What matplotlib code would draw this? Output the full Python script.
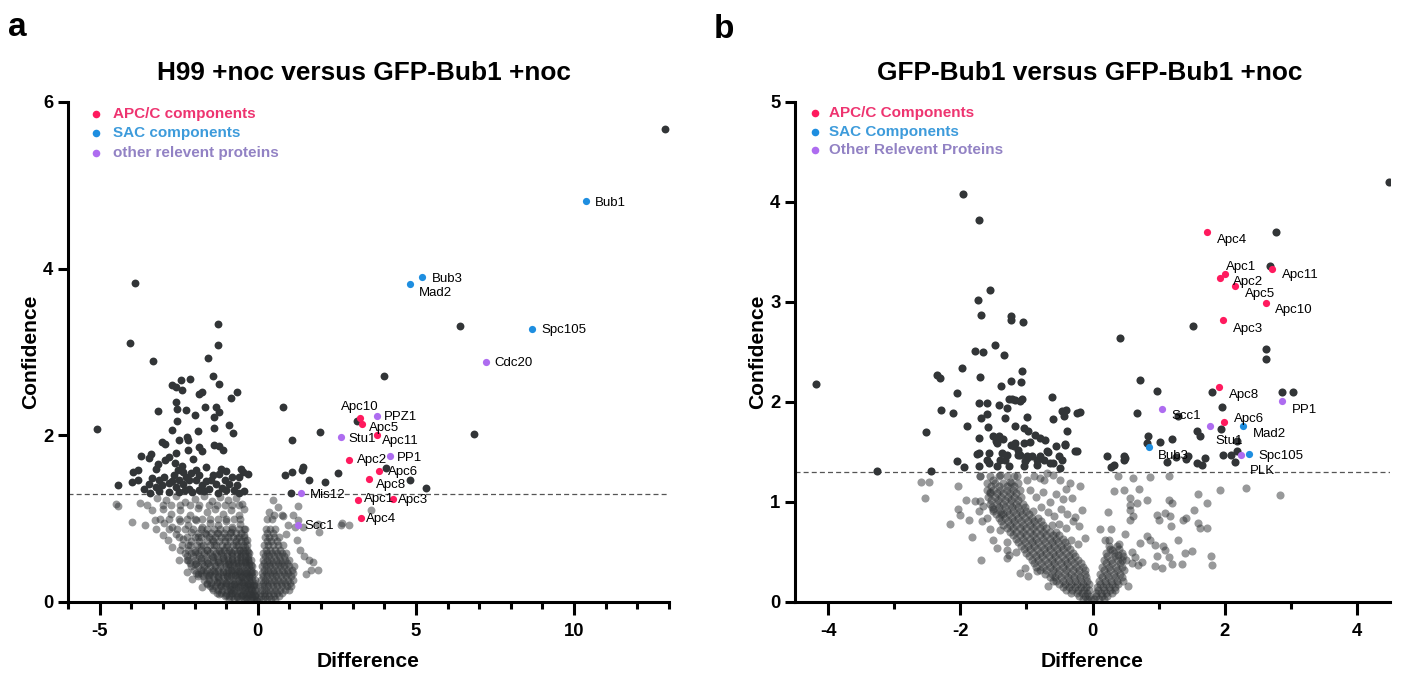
import matplotlib
matplotlib.use("Agg")
import matplotlib.pyplot as plt
from matplotlib import font_manager
import numpy as np

# ---- data: panel a (H99 +noc vs GFP-Bub1 +noc) ----
a_points = [
    # significant (dark)
    (-3.89, 3.83), (-4.05, 3.11), (-1.26, 3.34), (-1.25, 3.09), (-3.31, 2.89), (-1.58, 2.93),
    (-1.42, 2.71), (-2.14, 2.68), (-2.43, 2.66), (-1.24, 2.62), (-2.70, 2.60), (-2.60, 2.58),
    (-2.41, 2.54), (-1.75, 2.52), (-1.86, 2.50), (-0.67, 2.52), (-0.84, 2.45), (-2.60, 2.40),
    (-1.31, 2.34), (-1.67, 2.34), (-2.54, 2.32), (-2.28, 2.31), (-3.16, 2.29), (-1.38, 2.22),
    (-1.22, 2.28), (-1.99, 2.24), (-2.55, 2.17), (-0.90, 2.12), (-5.08, 2.08), (-1.40, 2.09),
    (-2.70, 2.06), (-1.90, 2.05), (-0.78, 2.03), (-2.24, 1.98), (-2.20, 1.94), (-2.49, 1.94),
    (-3.04, 1.92), (-2.92, 1.90), (-1.38, 1.89), (-1.24, 1.87), (-1.10, 1.83), (-1.86, 1.86),
    (-1.77, 1.81), (-2.20, 1.82), (-2.58, 1.79), (-3.38, 1.78), (-3.68, 1.75), (-3.45, 1.73),
    (-2.81, 1.74), (-2.92, 1.71), (-2.05, 1.72), (-3.17, 1.66), (-3.23, 1.60), (-3.78, 1.59),
    (-3.95, 1.56), (-2.62, 1.67), (-2.39, 1.63), (-2.51, 1.59), (-1.65, 1.62), (-1.96, 1.59),
    (-2.12, 1.55), (-1.17, 1.60), (-1.01, 1.57), (-0.53, 1.60), (-0.46, 1.56), (-0.30, 1.54),
    (-0.80, 1.50), (-0.59, 1.50), (-3.99, 1.44), (-4.42, 1.41), (-3.78, 1.47), (-3.34, 1.49),
    (-3.13, 1.46), (-3.02, 1.40), (-3.23, 1.38), (-2.81, 1.43), (-2.60, 1.38), (-2.37, 1.42),
    (-2.18, 1.36), (-1.96, 1.46), (-1.75, 1.40), (-1.54, 1.36), (-1.33, 1.42), (-1.12, 1.37),
    (-0.90, 1.42), (-0.75, 1.35), (-1.86, 1.34), (-2.07, 1.32), (-2.49, 1.32), (-2.81, 1.32),
    (-3.13, 1.33), (-2.28, 1.50), (-2.16, 1.46), (-2.49, 1.46), (-2.65, 1.52), (-1.43, 1.52),
    (-1.22, 1.54), (-1.49, 1.46), (-3.60, 1.36), (-3.45, 1.42), (-2.95, 1.50), (-2.70, 1.45),
    (-2.35, 1.56), (-1.85, 1.52), (-1.65, 1.45), (-1.05, 1.47), (-0.65, 1.40), (-0.45, 1.33),
    (-1.00, 1.34), (-1.70, 1.33), (-3.40, 1.31), (-2.30, 1.35), (-1.25, 1.31), (-0.60, 1.31),
    (0.81, 2.34), (1.07, 1.94), (1.98, 2.04), (1.42, 1.62), (1.40, 1.58), (1.07, 1.56),
    (0.85, 1.52), (1.61, 1.47), (2.11, 1.44), (2.55, 1.55), (1.06, 1.31), (3.13, 2.17),
    (4.05, 1.61), (4.81, 1.46), (5.32, 1.37), (6.82, 2.02), (6.40, 3.31), (3.98, 2.71),
    (12.88, 5.68),
    # not significant (left arm)
    (-4.48, 1.18), (-4.42, 1.15), (-3.71, 1.19), (-3.20, 1.25), (-2.90, 1.22), (-2.60, 1.27),
    (-2.30, 1.20), (-2.00, 1.24), (-1.70, 1.27), (-1.45, 1.21), (-1.20, 1.26), (-0.95, 1.22),
    (-0.70, 1.25), (-0.50, 1.18), (-3.35, 1.10), (-3.00, 1.12), (-2.75, 1.06), (-2.45, 1.10),
    (-2.15, 1.05), (-1.90, 1.13), (-1.60, 1.08), (-1.35, 1.12), (-1.10, 1.06), (-0.85, 1.10),
    (-0.60, 1.05), (-0.45, 1.12), (-3.97, 0.96), (-3.57, 0.93), (-3.25, 0.98), (-3.23, 0.88),
    (-2.95, 0.95), (-2.70, 0.90), (-2.45, 0.97), (-2.20, 0.92), (-1.95, 0.98), (-1.75, 0.90),
    (-1.50, 0.95), (-1.25, 0.92), (-1.00, 0.97), (-0.80, 0.90), (-0.55, 0.94), (-0.40, 0.88),
    (-3.00, 0.80), (-2.83, 0.74), (-2.60, 0.82), (-2.35, 0.76), (-2.10, 0.84), (-1.90, 0.78),
    (-1.65, 0.82), (-1.45, 0.76), (-1.25, 0.83), (-1.05, 0.78), (-0.85, 0.84), (-0.65, 0.77),
    (-0.45, 0.80), (-0.35, 0.74), (-2.70, 0.66), (-2.45, 0.62), (-2.20, 0.68), (-1.98, 0.60),
    (-1.80, 0.67), (-1.60, 0.62), (-1.40, 0.68), (-1.20, 0.61), (-1.00, 0.66), (-0.85, 0.60),
    (-0.70, 0.68), (-0.55, 0.62), (-0.40, 0.66), (-0.30, 0.60), (-2.50, 0.50), (-2.23, 0.50),
    (-2.00, 0.46), (-1.80, 0.53), (-1.60, 0.47), (-1.42, 0.54), (-1.25, 0.48), (-1.10, 0.53),
    (-0.95, 0.46), (-0.80, 0.52), (-0.68, 0.47), (-0.55, 0.54), (-0.42, 0.48), (-0.30, 0.52),
    (-0.22, 0.45), (-2.25, 0.36), (-2.07, 0.28), (-1.90, 0.34), (-1.72, 0.38), (-1.55, 0.32),
    (-1.40, 0.37), (-1.25, 0.30), (-1.10, 0.36), (-0.97, 0.31), (-0.85, 0.38), (-0.72, 0.32),
    (-0.60, 0.37), (-0.50, 0.30), (-0.38, 0.35), (-0.28, 0.30), (-0.18, 0.36), (-1.75, 0.18),
    (-1.60, 0.22), (-1.45, 0.17), (-1.30, 0.24), (-1.15, 0.19), (-1.00, 0.23), (-0.88, 0.16),
    (-0.75, 0.22), (-0.62, 0.18), (-0.50, 0.24), (-0.40, 0.17), (-0.30, 0.22), (-0.20, 0.16),
    (-0.12, 0.20), (-1.22, 0.10), (-1.00, 0.08), (-0.80, 0.11), (-0.65, 0.06), (-0.50, 0.09),
    (-0.38, 0.05), (-0.28, 0.10), (-0.18, 0.06), (-0.10, 0.09), (-0.05, 0.03), (-0.02, 0.01),
    # not significant (right arm)
    (0.47, 1.22), (0.65, 1.14), (1.28, 1.15), (0.52, 1.05), (0.77, 1.05), (1.10, 1.04),
    (1.27, 0.98), (1.90, 0.94), (2.67, 0.95), (2.88, 0.92), (1.61, 0.50), (1.76, 0.48),
    (1.90, 0.38), (1.69, 0.38), (0.37, 1.08), (0.81, 1.03), (1.19, 0.90), (1.42, 0.90),
    (1.53, 0.34), (1.93, 0.84), (3.59, 1.10), (2.64, 0.93), (1.35, 0.62), (1.25, 0.75),
    (1.45, 0.55), (0.95, 0.92), (0.90, 0.82),
]

# dense core of the cloud, typed row by row: (y, [x values])
a_core_rows = [
    (0.04, [-0.90, -0.75, -0.60, -0.45, -0.33, -0.22, -0.12, 0.05, 0.15, 0.28, 0.42, 0.55]),
    (0.07, [-1.05, -0.92, -0.80, -0.67, -0.54, -0.42, -0.30, -0.19, -0.09, 0.10, 0.22, 0.36,
            0.50, 0.66]),
    (0.11, [-1.30, -1.15, -1.00, -0.85, -0.72, -0.60, -0.48, -0.36, -0.25, -0.14, -0.06,
            0.08, 0.20, 0.33, 0.47, 0.62, 0.78]),
    (0.15, [-1.42, -1.27, -1.12, -0.98, -0.86, -0.74, -0.62, -0.50, -0.39, -0.29, -0.19,
            -0.10, 0.13, 0.26, 0.40, 0.55, 0.70, 0.85, 0.98]),
    (0.19, [-1.50, -1.35, -1.20, -1.05, -0.92, -0.80, -0.68, -0.55, -0.44, -0.34, -0.24,
            -0.15, -0.07, 0.08, 0.20, 0.33, 0.47, 0.62, 0.78, 0.92, 1.05]),
    (0.23, [-1.62, -1.47, -1.30, -1.14, -0.99, -0.85, -0.72, -0.58, -0.46, -0.35, -0.24,
            -0.13, 0.15, 0.28, 0.42, 0.57, 0.72, 0.87, 1.02]),
    (0.27, [-1.70, -1.55, -1.40, -1.22, -1.06, -0.92, -0.78, -0.64, -0.52, -0.40, -0.29,
            -0.18, -0.09, 0.10, 0.22, 0.35, 0.50, 0.65, 0.80, 0.95, 1.10]),
    (0.31, [-1.88, -1.72, -1.57, -1.42, -1.26, -1.10, -0.96, -0.84, -0.72, -0.60, -0.49,
            -0.38, -0.28, -0.18, 0.17, 0.30, 0.44, 0.59, 0.74, 0.89, 1.04]),
    (0.35, [-1.95, -1.80, -1.65, -1.50, -1.35, -1.18, -1.02, -0.90, -0.78, -0.66, -0.55,
            -0.44, -0.33, -0.23, -0.13, 0.12, 0.25, 0.38, 0.52, 0.67, 0.82, 0.97, 1.12]),
    (0.39, [-2.02, -1.80, -1.60, -1.43, -1.27, -1.10, -0.95, -0.82, -0.69, -0.56, -0.44,
            -0.33, -0.22, 0.19, 0.33, 0.47, 0.62, 0.77, 0.92, 1.08]),
    (0.43, [-2.10, -1.90, -1.70, -1.52, -1.35, -1.18, -1.02, -0.88, -0.75, -0.62, -0.50,
            -0.38, -0.27, -0.18, 0.14, 0.27, 0.40, 0.54, 0.69, 0.84, 1.00, 1.15]),
    (0.47, [-2.15, -1.95, -1.75, -1.56, -1.38, -1.21, -1.05, -0.91, -0.77, -0.64, -0.52,
            -0.40, -0.28, 0.21, 0.35, 0.49, 0.63, 0.78, 0.93]),
    (0.51, [-2.20, -2.00, -1.80, -1.60, -1.42, -1.25, -1.08, -0.94, -0.80, -0.66, -0.54,
            -0.42, -0.30, -0.20, 0.15, 0.28, 0.42, 0.56, 0.70, 0.85, 1.00]),
    (0.55, [-2.25, -2.05, -1.85, -1.65, -1.46, -1.28, -1.11, -0.96, -0.81, -0.67, -0.54,
            -0.42, -0.31, 0.24, 0.37, 0.52, 0.67, 0.82]),
    (0.59, [-2.30, -2.10, -1.90, -1.70, -1.50, -1.32, -1.15, -0.98, -0.82, -0.67, -0.52,
            -0.40, -0.28, 0.18, 0.30, 0.45, 0.60, 0.75, 0.90]),
    (0.63, [-2.20, -2.00, -1.80, -1.60, -1.41, -1.23, -1.06, -0.90, -0.74, -0.60, -0.46,
            -0.34, 0.26, 0.40, 0.55, 0.70]),
    (0.68, [-2.40, -2.15, -1.92, -1.72, -1.52, -1.33, -1.14, -0.96, -0.79, -0.62, -0.47,
            -0.34, 0.20, 0.33, 0.48, 0.63, 0.80]),
    (0.73, [-2.10, -1.85, -1.62, -1.43, -1.24, -1.05, -0.87, -0.70, -0.53, -0.40, 0.28,
            0.43, 0.60]),
    (0.78, [-2.50, -2.25, -2.00, -1.78, -1.55, -1.35, -1.15, -0.95, -0.78, -0.60, -0.45,
            0.22, 0.36, 0.52, 0.68]),
    (0.83, [-1.90, -1.68, -1.48, -1.28, -1.08, -0.88, -0.70, -0.52, 0.30, 0.47]),
    (0.88, [-2.80, -2.55, -2.30, -2.05, -1.80, -1.60, -1.40, -1.20, -1.00, -0.80, -0.60,
            -0.45, 0.26, 0.40, 0.55]),
    (1.00, [-3.10, -2.80, -2.50, -2.25, -2.00, -1.75, -1.50, -1.25, -1.00, -0.75, -0.55,
            0.30, 0.45]),
    (1.17, [-3.50, -3.00, -2.75, -2.45, -2.15, -1.85, -1.55, -1.30, -1.05, -0.80, -0.60]),
]

a_apc_names = ["Apc10", "Apc5", "Apc11", "Apc2", "Apc6", "Apc8", "Apc1", "Apc3", "Apc4"]
a_apc_x = [3.24, 3.28, 3.77, 2.88, 3.84, 3.52, 3.17, 4.26, 3.25]
a_apc_y = [2.21, 2.14, 2.00, 1.70, 1.57, 1.48, 1.23, 1.24, 1.01]
a_sac_names = ["Bub1", "Bub3", "Mad2", "Spc105"]
a_sac_x = [10.37, 5.18, 4.81, 8.68]
a_sac_y = [4.81, 3.90, 3.82, 3.27]
a_oth_names = ["PPZ1", "Stu1", "PP1", "Mis12", "Scc1", "Cdc20"]
a_oth_x = [3.77, 2.64, 4.17, 1.37, 1.27, 7.20]
a_oth_y = [2.23, 1.98, 1.75, 1.31, 0.93, 2.88]

# ---- data: panel b (GFP-Bub1 vs GFP-Bub1 +noc) ----
b_points = [
    # significant (dark)
    (-4.18, 2.18), (-1.96, 4.08), (-1.71, 3.82), (-1.55, 3.12), (-1.73, 3.02), (-1.69, 2.87),
    (-1.23, 2.86), (-1.23, 2.82), (-1.05, 2.80), (-1.47, 2.57), (-1.78, 2.51), (-1.66, 2.50),
    (-1.34, 2.47), (-1.07, 2.31), (-1.97, 2.34), (-2.35, 2.27), (-2.30, 2.24), (-1.70, 2.25),
    (-1.23, 2.21), (-1.08, 2.20), (-2.05, 2.09), (-1.38, 2.16), (-1.72, 1.99), (-1.60, 1.99),
    (-1.27, 2.03), (-1.22, 2.03), (-1.17, 2.02), (-1.09, 2.01), (-1.07, 2.03), (-1.41, 1.97),
    (-1.29, 1.94), (-0.62, 2.05), (-2.29, 1.92), (-2.11, 1.89), (-1.68, 1.84), (-1.60, 1.88),
    (-1.33, 1.84), (-0.99, 1.85), (-0.59, 1.83), (-0.46, 1.91), (-0.40, 1.92), (-0.43, 1.86),
    (-0.24, 1.89), (-0.19, 1.90), (-1.90, 1.76), (-1.58, 1.75), (-2.52, 1.70), (-1.17, 1.76),
    (-1.04, 1.74), (-0.97, 1.71), (-0.87, 1.67), (-0.79, 1.64), (-0.72, 1.62), (-0.39, 1.71),
    (-1.50, 1.66), (-1.42, 1.66), (-1.46, 1.61), (-1.35, 1.63), (-1.71, 1.64), (-1.24, 1.57),
    (-1.17, 1.59), (-1.04, 1.59), (-0.95, 1.60), (-1.12, 1.52), (-0.55, 1.56), (-0.41, 1.58),
    (-0.24, 1.51), (-1.72, 1.49), (-1.57, 1.49), (-1.60, 1.42), (-1.37, 1.49), (-1.30, 1.47),
    (-1.40, 1.42), (-1.09, 1.47), (-0.99, 1.46), (-0.92, 1.46), (-1.02, 1.41), (-0.84, 1.42),
    (-0.74, 1.42), (-0.67, 1.50), (-0.59, 1.39), (-0.51, 1.46), (-0.46, 1.42), (-2.05, 1.41),
    (-3.26, 1.31), (-2.44, 1.31), (-1.94, 1.35), (-1.74, 1.48), (-1.71, 1.36), (-1.57, 1.39),
    (-1.44, 1.59), (-1.32, 1.42), (-1.45, 1.36), (-1.27, 1.36), (-1.19, 1.56), (-1.12, 1.47),
    (-1.04, 1.36), (-0.99, 1.44), (-0.84, 1.37), (-0.79, 1.46), (-0.69, 1.51), (-0.64, 1.39),
    (-0.49, 1.34), (-0.41, 1.57), (-0.26, 1.51),
    (4.49, 4.20), (2.77, 3.70), (2.69, 3.36), (1.52, 2.76), (0.41, 2.64), (2.62, 2.53),
    (2.62, 2.43), (0.72, 2.22), (0.97, 2.11), (1.81, 2.10), (2.87, 2.10), (3.04, 2.10),
    (1.96, 1.95), (0.67, 1.89), (1.30, 1.86), (1.95, 1.73), (1.58, 1.71), (1.62, 1.66),
    (0.84, 1.66), (1.02, 1.60), (1.20, 1.63), (2.18, 1.61), (0.22, 1.46), (0.47, 1.46),
    (0.49, 1.44), (0.32, 1.37), (0.28, 1.35), (1.12, 1.40), (1.27, 1.45), (1.45, 1.46),
    (1.42, 1.43), (1.70, 1.44), (1.58, 1.39), (1.65, 1.37), (1.98, 1.47), (2.09, 1.47),
    (2.18, 1.51), (2.16, 1.40), (0.47, 1.42), (0.82, 1.59),
    # not significant (left arm)
    (-2.60, 1.20), (-2.48, 1.20), (-1.70, 1.26), (-1.50, 1.22), (-1.40, 1.27), (-1.25, 1.20),
    (-1.14, 1.26), (-0.99, 1.22), (-0.89, 1.26), (-0.74, 1.22), (-0.59, 1.27), (-0.49, 1.22),
    (-0.34, 1.19), (-0.69, 1.29), (-0.79, 1.24), (-2.53, 1.04), (-2.03, 1.16), (-1.92, 1.02),
    (-1.77, 1.01), (-1.70, 1.01), (-1.65, 0.96), (-1.55, 1.10), (-0.95, 1.12), (-0.85, 1.05),
    (-0.75, 1.10), (-0.65, 1.00), (-0.55, 1.08), (-0.45, 1.03), (-0.19, 1.16), (-0.31, 1.04),
    (-0.40, 1.13), (-2.04, 0.93), (-2.00, 0.87), (-1.72, 0.91), (-0.78, 0.95), (-0.68, 0.90),
    (-0.58, 0.86), (-0.48, 0.93), (-0.38, 0.88), (-0.16, 0.92), (-0.26, 0.85), (-2.15, 0.78),
    (-1.87, 0.82), (-1.60, 0.84), (-1.67, 0.81), (-1.55, 0.73), (-1.40, 0.72), (-0.50, 0.78),
    (-0.40, 0.74), (-0.29, 0.81), (-0.20, 0.76), (-1.83, 0.65), (-1.50, 0.62), (-1.45, 0.54),
    (-1.30, 0.60), (-0.32, 0.62), (-0.22, 0.58), (-0.12, 0.64), (-1.69, 0.42), (-1.30, 0.52),
    (-1.30, 0.44), (-1.27, 0.47), (-1.15, 0.50), (-1.09, 0.29), (-1.02, 0.34), (-0.97, 0.26),
    (-0.84, 0.31), (-0.67, 0.16), (-0.60, 0.21), (-1.70, 1.26), (-1.50, 0.93), (-1.38, 0.88),
    # not significant (right arm)
    (0.38, 1.26), (0.62, 1.24), (0.87, 1.25), (1.16, 1.26), (0.32, 1.11), (0.47, 1.12),
    (0.71, 1.13), (0.83, 1.02), (0.57, 1.04), (0.57, 0.97), (0.67, 0.99), (1.15, 1.02),
    (1.20, 0.99), (1.60, 1.08), (1.73, 0.99), (1.93, 1.12), (2.32, 1.14), (2.83, 1.07),
    (0.24, 0.90), (0.57, 0.92), (0.62, 0.86), (0.56, 0.82), (0.97, 0.87), (1.10, 0.89),
    (1.00, 0.82), (1.17, 0.86), (1.18, 0.76), (1.37, 0.82), (1.42, 0.84), (1.53, 0.92),
    (1.60, 0.79), (1.63, 0.74), (1.73, 0.74), (0.12, 0.73), (0.28, 0.73), (0.49, 0.68),
    (0.19, 0.62), (0.82, 0.66), (0.87, 0.62), (0.72, 0.59), (0.95, 0.57), (1.07, 0.56),
    (1.10, 0.52), (0.97, 0.46), (1.15, 0.45), (1.30, 0.62), (1.40, 0.49), (1.50, 0.51),
    (1.79, 0.46), (1.81, 0.37), (1.36, 0.38), (1.21, 0.38), (1.05, 0.34), (0.95, 0.36),
    (0.59, 0.39), (0.69, 0.37), (0.54, 0.16), (0.29, 0.52), (0.38, 0.47), (0.44, 0.42),
    (0.60, 0.50), (0.65, 0.45), (0.75, 0.40), (0.40, 0.58), (0.25, 0.62),
]

b_core_rows = [
    (0.03, [-0.15, -0.08, -0.02, 0.03, 0.10, 0.17]),
    (0.06, [-0.20, -0.12, -0.05, 0.06, 0.14, 0.22]),
    (0.09, [-0.32, -0.24, -0.16, -0.08, 0.05, 0.13, 0.21, 0.29]),
    (0.12, [-0.40, -0.31, -0.22, -0.13, -0.05, 0.09, 0.17, 0.26, 0.34]),
    (0.15, [-0.45, -0.36, -0.27, -0.18, -0.10, 0.07, 0.16, 0.25, 0.34]),
    (0.18, [-0.50, -0.41, -0.32, -0.23, -0.14, -0.06, 0.12, 0.21, 0.30, 0.39]),
    (0.21, [-0.55, -0.45, -0.35, -0.26, -0.17, -0.08, 0.10, 0.19, 0.28, 0.37, 0.46]),
    (0.25, [-0.65, -0.56, -0.47, -0.37, -0.28, -0.19, -0.10, 0.14, 0.24, 0.34, 0.44]),
    (0.28, [-0.72, -0.62, -0.52, -0.42, -0.32, -0.22, -0.12, 0.12, 0.22, 0.32, 0.42]),
    (0.32, [-0.80, -0.70, -0.60, -0.50, -0.40, -0.30, -0.20, -0.11, 0.17, 0.27, 0.37, 0.48]),
    (0.35, [-0.85, -0.75, -0.65, -0.55, -0.45, -0.35, -0.25, -0.15, 0.15, 0.25, 0.35, 0.45]),
    (0.39, [-0.88, -0.78, -0.68, -0.58, -0.48, -0.38, -0.28, -0.18, 0.20, 0.30, 0.42]),
    (0.42, [-0.92, -0.82, -0.72, -0.62, -0.52, -0.42, -0.32, -0.22, 0.18, 0.28, 0.38, 0.50]),
    (0.46, [-0.96, -0.86, -0.76, -0.66, -0.56, -0.46, -0.36, -0.26, 0.22, 0.34, 0.46]),
    (0.49, [-1.00, -0.90, -0.80, -0.70, -0.60, -0.50, -0.40, -0.30, 0.20, 0.32, 0.44]),
    (0.53, [-1.04, -0.94, -0.84, -0.74, -0.64, -0.54, -0.44, -0.34, 0.27, 0.40]),
    (0.56, [-1.08, -0.98, -0.88, -0.78, -0.68, -0.58, -0.48, -0.38, 0.25, 0.37]),
    (0.60, [-1.12, -1.02, -0.92, -0.82, -0.72, -0.62, -0.52, -0.42]),
    (0.63, [-1.15, -1.05, -0.95, -0.85, -0.75, -0.65, -0.55, -0.45]),
    (0.67, [-1.20, -1.10, -1.00, -0.90, -0.80, -0.70, -0.60, -0.50]),
    (0.70, [-1.25, -1.15, -1.05, -0.95, -0.85, -0.75, -0.65, -0.55]),
    (0.74, [-1.30, -1.20, -1.10, -1.00, -0.90, -0.80, -0.70]),
    (0.77, [-1.35, -1.25, -1.15, -1.05, -0.95, -0.85, -0.75, -0.62]),
    (0.81, [-1.38, -1.28, -1.18, -1.08, -0.98, -0.88, -0.78]),
    (0.84, [-1.42, -1.32, -1.22, -1.12, -1.02, -0.92, -0.82]),
    (0.88, [-1.46, -1.36, -1.26, -1.16, -1.06, -0.96]),
    (0.91, [-1.50, -1.40, -1.30, -1.20, -1.10, -1.00, -0.90]),
    (0.95, [-1.52, -1.42, -1.32, -1.22, -1.12, -1.02]),
    (0.98, [-1.55, -1.45, -1.35, -1.25, -1.15, -1.05]),
    (1.02, [-1.53, -1.43, -1.33, -1.23, -1.13]),
    (1.05, [-1.58, -1.48, -1.38, -1.28, -1.18, -1.08]),
    (1.09, [-1.55, -1.45, -1.35, -1.25, -1.15]),
    (1.12, [-1.60, -1.50, -1.40, -1.30, -1.20, -1.10]),
    (1.16, [-1.54, -1.42, -1.30, -1.18]),
    (1.19, [-1.60, -1.48, -1.36, -1.24, -1.12]),
    (1.26, [-1.55, -1.42, -1.30, -1.18]),
]

b_apc_names = ["Apc4", "Apc1", "Apc2", "Apc5", "Apc11", "Apc10", "Apc3", "Apc8", "Apc6"]
b_apc_x = [1.73, 2.00, 1.93, 2.15, 2.72, 2.62, 1.98, 1.91, 1.99]
b_apc_y = [3.70, 3.28, 3.24, 3.16, 3.33, 2.99, 2.82, 2.15, 1.80]
b_sac_names = ["Bub3", "Mad2", "Spc105"]
b_sac_x = [0.855, 2.28, 2.37]
b_sac_y = [1.55, 1.76, 1.48]
b_oth_names = ["Scc1", "Stu1", "PP1", "PLK"]
b_oth_x = [1.05, 1.78, 2.87, 2.24]
b_oth_y = [1.93, 1.76, 2.01, 1.47]

legend_a = ["APC/C components", "SAC components", "other relevent proteins"]
legend_b = ["APC/C Components", "SAC Components", "Other Relevent Proteins"]

# label offsets in points (dx, dy); layout only
a_offsets = {
    "Apc10": (0, 8), "Apc5": (5.5, -3), "Apc11": (3.8, -4.3), "Apc2": (5.8, 0),
    "Apc6": (6.5, -0.7), "Apc8": (4.6, -4.8), "Apc1": (4.1, 0.5), "Apc3": (4.1, -1.2),
    "Apc4": (4.1, -0.5), "Bub1": (6.7, -1.2), "Bub3": (7.2, -1.2), "Mad2": (6.7, -7),
    "Spc105": (6.2, -0.7), "PPZ1": (5, -0.5), "Stu1": (4.8, -1.2), "PP1": (5.5, -1),
    "Mis12": (6, -1.2), "Scc1": (4.8, -1.2), "Cdc20": (6.2, -1),
}
b_offsets = {
    "Apc4": (7.2, -6), "Apc1": (1.2, 5.3), "Apc2": (9.6, -3.1), "Apc5": (7.7, -6),
    "Apc11": (7, -4.6), "Apc10": (6.7, -5.3), "Apc3": (7.2, -6.2), "Apc8": (7, -6),
    "Apc6": (7, 2.2), "Scc1": (6.5, -5.3), "Stu1": (3.6, -10.8), "PP1": (7.2, -6.5),
    "PLK": (7, -11.5), "Bub3": (6.7, -6.2), "Mad2": (6.7, -6), "Spc105": (6.7, -1.4),
}

# ---- style ----
names = {f.name for f in font_manager.fontManager.ttflist}
narrow = "Liberation Sans Narrow" if "Liberation Sans Narrow" in names else None
plt.rcParams["font.family"] = ["Liberation Sans", "DejaVu Sans"]
plt.rcParams["axes.unicode_minus"] = False
head_font = narrow or "Liberation Sans"
k = 1.0 if narrow else 0.84   # shrink wide fallback so headings keep their width

dark = "#323537"
pink, blue, purple = "#FF1A5E", "#1E8EE0", "#AE6CF0"
pink_l, blue_l, purple_l = "#EE3470", "#3D9BDB", "#9282C4"
thresh = 1.3

fig = plt.figure(figsize=(14.01, 6.8), dpi=100)
ax_a = fig.add_axes([68 / 1401, 78 / 680, 601 / 1401, 500 / 680])
ax_b = fig.add_axes([795 / 1401, 78 / 680, 595 / 1401, 500 / 680])


def all_points(pts, rows):
    out = list(pts)
    for y, xs in rows:
        out += [(x, y) for x in xs]
    return np.array(out)


def draw(ax, p, groups, offsets, s_dark, s_col):
    sig = p[:, 1] > thresh
    ax.scatter(p[~sig, 0], p[~sig, 1], s=s_dark, color=dark, alpha=0.5, lw=0, zorder=2)
    ax.scatter(p[sig, 0], p[sig, 1], s=s_dark, color=dark, lw=0, zorder=3)
    for lbls, xs, ys, col in groups:
        ax.scatter(xs, ys, s=s_col, color=col, lw=0, zorder=4)
        for n, x, y in zip(lbls, xs, ys):
            dx, dy = offsets[n]
            ha = "center" if dx == 0 else "left"
            ax.annotate(n, (x, y), xytext=(dx, dy), textcoords="offset points",
                        ha=ha, va="center", fontsize=9.5, color="black", zorder=5)
    ax.axhline(thresh, color="#555555", lw=0.9, ls=(0, (4, 2.5)), zorder=1)
    for side in ("top", "right"):
        ax.spines[side].set_visible(False)
    for side in ("left", "bottom"):
        ax.spines[side].set_linewidth(2.2)
    ax.tick_params(axis="both", width=2.2, labelsize=14 * (1.0 if narrow else 0.95))
    ax.tick_params(axis="x", which="major", length=9, pad=6)
    ax.tick_params(axis="x", which="minor", length=5, width=2.2)
    ax.tick_params(axis="y", which="major", length=7)
    for lab in ax.get_xticklabels() + ax.get_yticklabels():
        lab.set_family(head_font)
        lab.set_fontweight("bold")
    ax.set_xlabel("Difference", fontsize=18 * k, fontweight="bold", family=head_font)
    ax.set_ylabel("Confidence", fontsize=18 * k, fontweight="bold", family=head_font)
    ax.xaxis.set_label_coords(0.5, -0.1)
    ax.xaxis.label.set_va("top")
    ax.yaxis.set_label_coords(-0.047, 0.5)


def legend(ax, labels, mx, tx, ys):
    cols = [(pink, pink_l), (blue, blue_l), (purple, purple_l)]
    for lab, (mc, tc), y in zip(labels, cols, ys):
        ax.scatter([mx], [y], s=30, color=mc, lw=0, transform=ax.transAxes, clip_on=False)
        ax.text(tx, y, lab, transform=ax.transAxes, color=tc, fontsize=11,
                fontweight="bold", va="center", ha="left")


ax_a.set_xlim(-6, 13)
ax_a.set_ylim(0, 6)
ax_a.set_xticks([-5, 0, 5, 10])
ax_a.set_xticks(np.arange(-6, 14, 1), minor=True)
ax_a.set_yticks([0, 2, 4, 6])
draw(ax_a, all_points(a_points, a_core_rows),
     [(a_apc_names, a_apc_x, a_apc_y, pink), (a_sac_names, a_sac_x, a_sac_y, blue),
      (a_oth_names, a_oth_x, a_oth_y, purple)], a_offsets, 32, 27)
legend(ax_a, legend_a, 0.0466, 0.0745, [0.976, 0.937, 0.898])

ax_b.set_xlim(-4.5, 4.5)
ax_b.set_ylim(0, 5)
ax_b.set_xticks([-4, -2, 0, 2, 4])
ax_b.set_xticks([-3, -1, 1, 3], minor=True)
ax_b.set_yticks([0, 1, 2, 3, 4, 5])
draw(ax_b, all_points(b_points, b_core_rows),
     [(b_apc_names, b_apc_x, b_apc_y, pink), (b_sac_names, b_sac_x, b_sac_y, blue),
      (b_oth_names, b_oth_x, b_oth_y, purple)], b_offsets, 34, 27)
legend(ax_b, legend_b, 0.0336, 0.057, [0.978, 0.940, 0.904])

fig.text(364 / 1401, 1 - 73 / 680, "H99 +noc versus GFP-Bub1 +noc", ha="center", va="center",
         fontsize=22.5 * k, fontweight="bold", family=head_font)
fig.text(1090 / 1401, 1 - 73 / 680, "GFP-Bub1 versus GFP-Bub1 +noc", ha="center", va="center",
         fontsize=22.5 * k, fontweight="bold", family=head_font)
fig.text(8 / 1401, 1 - 27 / 680, "a", ha="left", va="center", fontsize=24, fontweight="bold",
         family=head_font)
fig.text(714 / 1401, 1 - 30 / 680, "b", ha="left", va="center", fontsize=24, fontweight="bold",
         family=head_font)

fig.savefig("out.png", dpi=100)
